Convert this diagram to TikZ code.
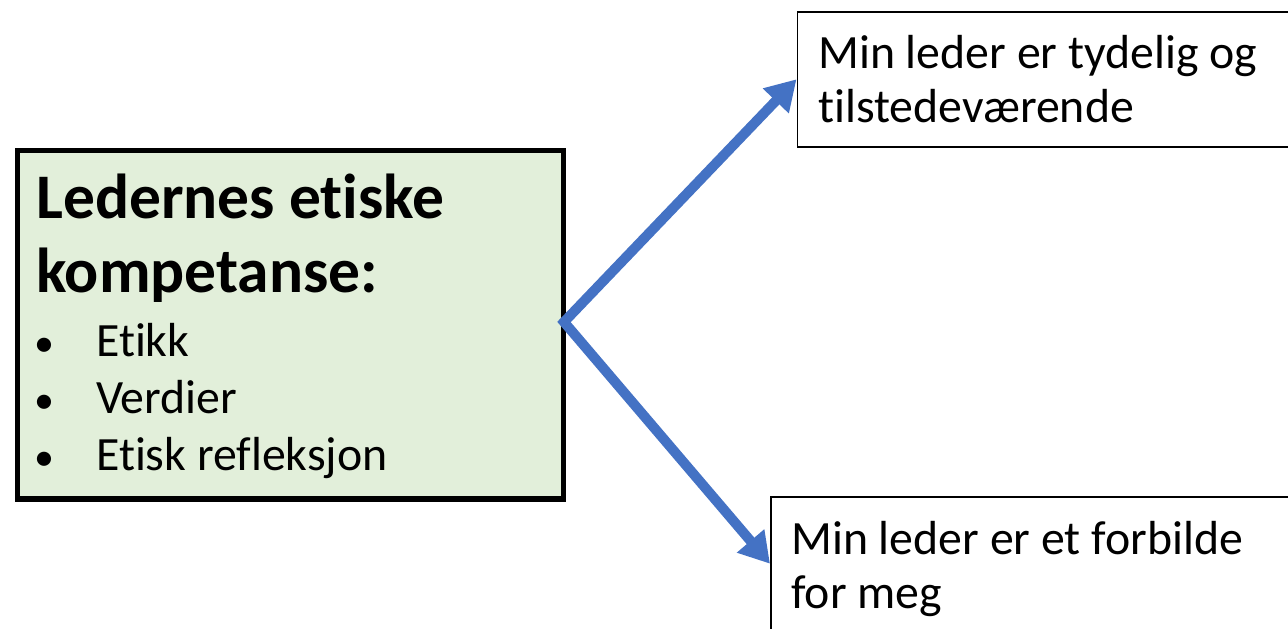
\documentclass[tikz,border=0pt]{standalone}
\usepackage{fontspec}
\setmainfont{Carlito}[Ligatures={NoCommon}]
\usetikzlibrary{arrows.meta}
\definecolor{boxgreen}{HTML}{E2EFDA}
\definecolor{arrowblue}{HTML}{4472C4}
\tikzset{
  mainbox/.style={draw=black, line width=5.5pt, fill=boxgreen, inner sep=0pt},
  outbox/.style={draw=black, line width=1.5pt, fill=white, inner sep=0pt},
  txt/.style={anchor=base west, inner sep=0pt, font=\fontsize{47.8}{57}\selectfont},
  title/.style={anchor=base west, inner sep=0pt, font=\fontsize{63.5}{76}\selectfont\bfseries},
  conn/.style={draw=arrowblue, line width=10pt, line join=miter, {Triangle[length=30pt,width=34pt]}-{Triangle[length=30pt,width=34pt]}}
}
\begin{document}
\begin{tikzpicture}[x=1pt,y=-1pt]
\useasboundingbox (0,0) rectangle (1288,629);
\clip (0,0) rectangle (1288,629);
% boxes
\node[mainbox, anchor=north west, minimum width=546pt, minimum height=348.5pt] (L) at (14.5,147.5) {};
\node[outbox, anchor=north west, minimum width=520pt, minimum height=135pt] (U) at (796.5,11) {};
\node[outbox, anchor=north west, minimum width=560pt, minimum height=134pt] (D) at (770,496) {};
% texts
\node[title] (t1) at (36,218) {Ledernes etiske};
\node[title] (t2) at (36,292) {kompetanse:};
\node[txt, font=\fontsize{40}{48}\selectfont] (b1) at (34,356) {•};
\node[txt] (i1) at (96,356) {Etikk};
\node[txt, font=\fontsize{40}{48}\selectfont] (b2) at (34,413) {•};
\node[txt] (i2) at (96,413) {Verdier};
\node[txt, font=\fontsize{40}{48}\selectfont] (b3) at (34,470) {•};
\node[txt] (i3) at (96,470) {Etisk refleksjon};
\node[txt] (u1) at (818,68) {Min leder er tydelig og};
\node[txt] (u2) at (818,122) {tilstedeværende};
\node[txt] (d1) at (791,554) {Min leder er et forbilde};
\node[txt] (d2) at (791,608) {for meg};
% connector
\coordinate (S) at (564,322);
\draw[conn] (U.west) -- (S) -- (D.west);
\end{tikzpicture}
\end{document}
